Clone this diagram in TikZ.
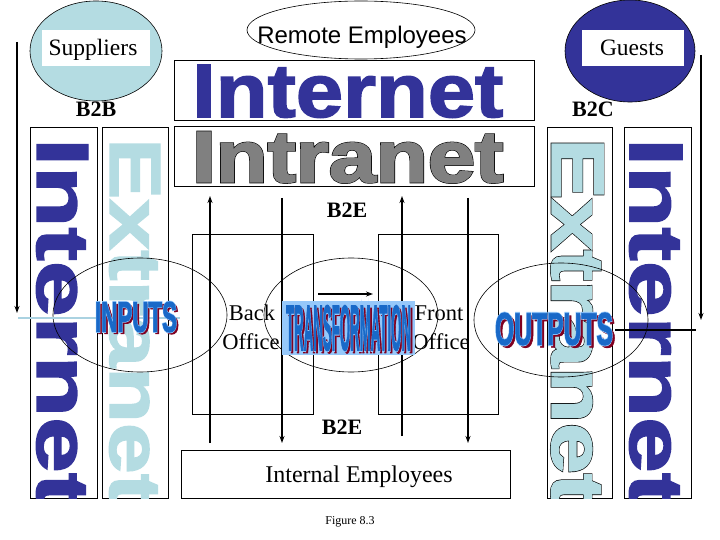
\documentclass[tikz,border=0pt]{standalone}
\usepackage{fontspec}
\usepackage{graphicx}
\setmainfont{Liberation Serif}
\newfontfamily\arialf{Liberation Sans}
\newfontfamily\heavyX{Liberation Sans}[BoldFeatures={FakeBold=5.5}]
\newfontfamily\heavyO{Liberation Sans}[BoldFeatures={FakeBold=3.5}]
\newfontfamily\heavyF{Liberation Sans}[BoldFeatures={FakeBold=2}]
\usetikzlibrary{shapes.geometric,arrows.meta}
\definecolor{dkblue}{RGB}{51,51,153}
\definecolor{ltblue}{RGB}{180,220,226}
\definecolor{grayI}{RGB}{128,128,128}
\definecolor{waBlue}{RGB}{25,105,200}
\definecolor{waLight}{RGB}{150,200,250}
\definecolor{waShadow}{RGB}{128,0,32}
\definecolor{lineblue}{RGB}{170,210,225}
\newcommand{\wX}[3]{\resizebox{#1}{#2}{\heavyX\bfseries #3}}
\newcommand{\wO}[3]{\resizebox{#1}{#2}{\heavyO\bfseries #3}}
\newcommand{\wF}[3]{\resizebox{#1}{#2}{\heavyF\bfseries #3}}
\begin{document}
\begin{tikzpicture}[x=1pt,y=-1pt,
  box/.style={draw=black, line width=0.8pt, inner sep=0pt},
  oval/.style={draw=black, ellipse, line width=0.6pt, inner sep=0pt},
  flow/.style={line width=1.8pt, -{Stealth[length=7pt,width=5pt]}},
  plainline/.style={line width=1.8pt},
  lbl/.style={font=\fontsize{23.5}{27}\selectfont, inner sep=0pt, anchor=base},
  blbl/.style={font=\fontsize{22}{26}\selectfont\bfseries, inner sep=0pt, anchor=base},
  word/.style={inner sep=0pt, anchor=base west},
  vword/.style={inner sep=0pt, anchor=base west, rotate=-90},
  wa/.style={inner sep=0pt, anchor=center}]
\useasboundingbox (0,0) rectangle (720,540);
\fill[white] (0,0) rectangle (720,540);

% boxes
\node[box, minimum width=360pt, minimum height=60pt] (inetbox) at (354,90) {};
\node[box, minimum width=360pt, minimum height=60pt] (intrabox) at (354,156) {};
\node[box, minimum width=67pt, minimum height=371pt] (lin) at (63.5,312.5) {};
\node[box, minimum width=66pt, minimum height=371pt] (lex) at (135,312.5) {};
\node[box, minimum width=65pt, minimum height=371pt] (rex) at (579.5,312.5) {};
\node[box, minimum width=67pt, minimum height=371pt] (rin) at (657.5,312.5) {};
\node[box, minimum width=121pt, minimum height=180pt] (bo) at (252.5,324) {};
\node[box, minimum width=120pt, minimum height=180pt] (fo) at (438,324) {};
\node[box, minimum width=329pt, minimum height=48pt] (ie) at (345.5,474) {};

% horizontal big words
\node[word, text=dkblue] (tInternet) at (192,117) {\wF{311pt}{52pt}{Internet}};
\node[word, text=black] at (192,182) {\wO{311pt}{50pt}{Intranet}};
\node[word, text=grayI] (tIntranet) at (192,182) {\wF{311pt}{50pt}{Intranet}};

% vertical big words
\begin{scope}
\clip (lin.north west) rectangle (lin.south east);
\node[vword, text=dkblue] (vInL) at (37,138) {\wF{368pt}{51pt}{Internet}};
\end{scope}
\begin{scope}
\clip (lex.north west) rectangle (lex.south east);
\node[vword, text=ltblue] (vExL) at (110,138) {\wF{366pt}{50pt}{Extranet}};
\end{scope}
\begin{scope}
\clip (rex.north west) rectangle (rex.south east);
\node[vword, text=black] at (552,138) {\wO{366pt}{51pt}{Extranet}};
\node[vword, text=ltblue] (vExR) at (552,138) {\wF{366pt}{51pt}{Extranet}};
\end{scope}
\begin{scope}
\clip (rin.north west) rectangle (rin.south east);
\node[vword, text=dkblue] (vInR) at (630,138) {\wF{368pt}{52pt}{Internet}};
\end{scope}

% top ellipses
\node[oval, fill=ltblue, minimum width=132pt, minimum height=100pt] (sup) at (96,51) {};
\node[fill=white, minimum width=108pt, minimum height=36pt, inner sep=0pt] (supw) at (96,48) {};
\node[lbl] (supt) at (93,56) {Suppliers};
\node[oval, minimum width=228pt, minimum height=58pt] (rem) at (361,30) {};
\node[lbl, font=\arialf\fontsize{24}{28}\selectfont] (remt) at (362,44) {Remote Employees};
\node[oval, fill=dkblue, minimum width=130pt, minimum height=102pt] (gue) at (630,51) {};
\node[fill=white, minimum width=102pt, minimum height=36pt, inner sep=0pt] (guew) at (633,48) {};
\node[lbl] (guet) at (632,56) {Guests};

\node[blbl] (b2b) at (96,117) {B2B};
\node[blbl] (b2c) at (593,117) {B2C};
\node[blbl] (b2e1) at (347,218) {B2E};
\node[blbl] (b2e2) at (342,434) {B2E};
\node[lbl, font=\fontsize{24}{28}\selectfont] (iet) at (359,482) {Internal Employees};
\node[lbl, font=\fontsize{22.5}{26}\selectfont] (bk) at (252,320) {Back};
\node[lbl, font=\fontsize{22.5}{26}\selectfont] (bko) at (251,349) {Office};
\node[lbl, font=\fontsize{22.5}{26}\selectfont] (ft) at (439,320) {Front};
\node[lbl, font=\fontsize{22.5}{26}\selectfont] (fto) at (441,349) {Office};
\node[lbl, font=\fontsize{12}{14}\selectfont] (fig) at (350,524) {Figure 8.3};

% middle ellipses
\node[oval, minimum width=174pt, minimum height=114pt] (el) at (140,315) {};
\node[oval, minimum width=174pt, minimum height=114pt] (em) at (351,315) {};
\node[oval, minimum width=174pt, minimum height=114pt] (er) at (561,320) {};

% connector ends
\coordinate (a1s) at (210,443); \coordinate (a1e) at (210,196);
\coordinate (a2s) at (282,198); \coordinate (a2e) at (282,443);
\coordinate (a3s) at (402,436); \coordinate (a3e) at (402,196);
\coordinate (a4s) at (468,198); \coordinate (a4e) at (468,443);
\coordinate (la1) at (17,42); \coordinate (la2) at (17,313);
\coordinate (ra1) at (701,55); \coordinate (ra2) at (701,320);
\coordinate (rl1) at (615,330); \coordinate (rl2) at (696,330);
\coordinate (bl1) at (18,318); \coordinate (bl2) at (180,318);
\coordinate (ma1) at (318,294); \coordinate (ma2) at (373,294);

\draw[flow] (a1s) -- (a1e);
\draw[flow] (a2s) -- (a2e);
\draw[flow] (a3s) -- (a3e);
\draw[flow] (a4s) -- (a4e);
\draw[flow] (la1) -- (la2);
\draw[flow] (ra1) -- (ra2);
\draw[plainline] (rl1) -- (rl2);
\draw[plainline, draw=lineblue] (bl1) -- (bl2);
\draw[flow] (ma1) -- (ma2);

% word art
\node[wa, text=waShadow] at (138,319) {\wF{82pt}{30pt}{INPUTS}};
\node[wa, text=waLight] at (136,317) {\wX{82pt}{30pt}{INPUTS}};
\node[wa, text=waBlue] (inputs) at (136,317) {\wF{82pt}{30pt}{INPUTS}};

\node[fill=waLight, minimum width=133pt, minimum height=54pt, inner sep=0pt] (trb) at (348.5,328) {};
\node[wa, text=waShadow] at (350.5,330.5) {\wF{125pt}{45pt}{TRANSFORMATION}};
\node[wa, text=waLight] at (348.5,328) {\wX{125pt}{45pt}{TRANSFORMATION}};
\node[wa, text=waBlue] (trans) at (348.5,328) {\wF{125pt}{45pt}{TRANSFORMATION}};

\node[wa, text=waShadow] at (556.5,331.5) {\wF{118pt}{32pt}{OUTPUTS}};
\node[wa, text=waLight] at (554,329) {\wX{118pt}{32pt}{OUTPUTS}};
\node[wa, text=waBlue] (outputs) at (554,329) {\wF{118pt}{32pt}{OUTPUTS}};
\end{tikzpicture}
\end{document}
